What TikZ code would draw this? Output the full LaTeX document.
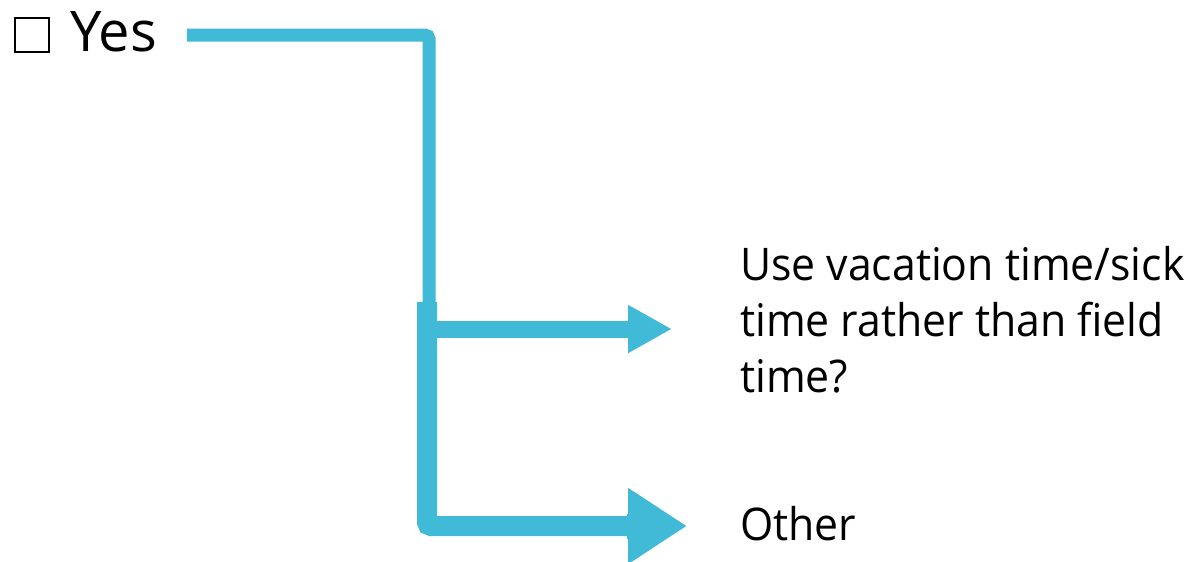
\documentclass[tikz,border=0pt]{standalone}
\usepackage{fontspec}
\setmainfont{Open Sans}
\newfontfamily\narrowsans[FakeStretch=0.95]{Open Sans}
\usetikzlibrary{arrows.meta}
\definecolor{flowblue}{RGB}{64,186,214}
\begin{document}
\begin{tikzpicture}[x=1pt,y=-1pt,
  flow/.style={draw=flowblue, line cap=butt, line join=miter},
  lbl/.style={inner sep=0, font=\narrowsans\fontsize{45}{56}\selectfont, align=left},
  bigtip/.style={-{Triangle[length=44pt,width=45pt]}},
  hugetip/.style={-{Triangle[length=59pt,width=72pt]}}]
\useasboundingbox (0,0) rectangle (1191,562);
\node[draw, line width=1.3pt, minimum size=34pt, inner sep=0] (box) at (32,35) {};
\node[inner sep=0, anchor=base west, font=\fontsize{56}{60}\selectfont] (yes) at (70,51) {Yes};
\node[lbl, anchor=base west] (q1) at (740,392) {Use vacation time/sick\\time rather than field\\time?};
\node[lbl, anchor=base west] (other) at (740,540) {Other};
\coordinate (c1) at (429,35);
\coordinate (c2) at (429,312);
\coordinate (t1) at (672,329);
\coordinate (b1) at (427,302);
\coordinate (b2) at (427,526);
\coordinate (t2) at (687,526);
\draw[flow, line width=13pt, rounded corners=4pt] ([xshift=30pt]yes.east |- c1) -- (c1) -- (c2);
\draw[flow, line width=17pt, bigtip] (c2 |- t1) -- (t1);
\draw[flow, line width=20pt, rounded corners=4pt] (b1) -- (b2) -- ([xshift=-50pt]t2);
\draw[flow, line width=25pt, hugetip] ([xshift=-60pt]t2) -- (t2);
\end{tikzpicture}
\end{document}
